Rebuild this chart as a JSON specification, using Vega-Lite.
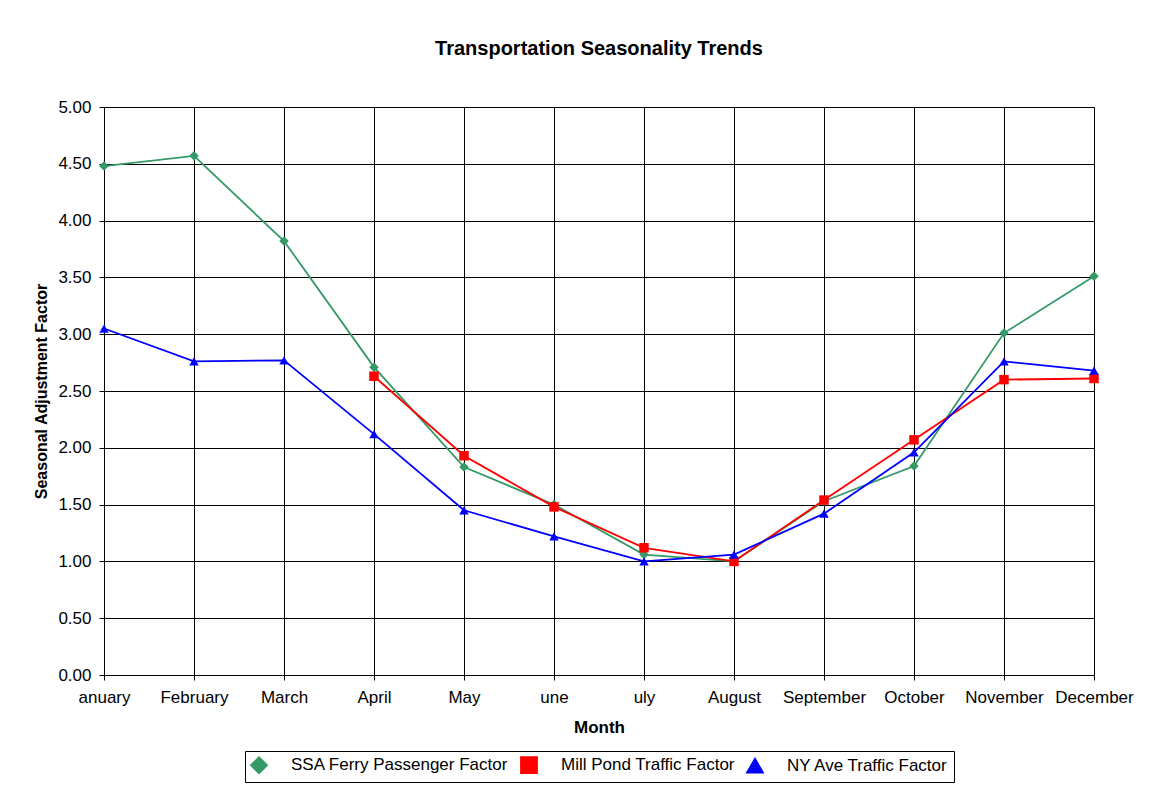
{
  "$schema": "https://vega.github.io/schema/vega-lite/v6.json",
  "width": 990,
  "height": 568,
  "autosize": {"type": "none"},
  "padding": {"left": 104, "top": 107, "right": 60, "bottom": 114},
  "background": "white",
  "config": {
    "font": "Liberation Sans",
    "view": {"stroke": "#808080", "strokeWidth": 1},
    "legend": {"layout": {"bottom": {"anchor": "middle"}}}
  },
  "title": {
    "text": "Transportation Seasonality Trends",
    "font": "Liberation Sans",
    "fontSize": 20,
    "fontWeight": "bold",
    "color": "black",
    "anchor": "middle",
    "offset": 39
  },
  "data": {
    "values": [
      {"month": "anuary", "series": "SSA Ferry Passenger Factor", "value": 4.48},
      {"month": "February", "series": "SSA Ferry Passenger Factor", "value": 4.57},
      {"month": "March", "series": "SSA Ferry Passenger Factor", "value": 3.82},
      {"month": "April", "series": "SSA Ferry Passenger Factor", "value": 2.71},
      {"month": "May", "series": "SSA Ferry Passenger Factor", "value": 1.83},
      {"month": "une", "series": "SSA Ferry Passenger Factor", "value": 1.5},
      {"month": "uly", "series": "SSA Ferry Passenger Factor", "value": 1.06},
      {"month": "August", "series": "SSA Ferry Passenger Factor", "value": 1.0},
      {"month": "September", "series": "SSA Ferry Passenger Factor", "value": 1.53},
      {"month": "October", "series": "SSA Ferry Passenger Factor", "value": 1.84},
      {"month": "November", "series": "SSA Ferry Passenger Factor", "value": 3.01},
      {"month": "December", "series": "SSA Ferry Passenger Factor", "value": 3.51},
      {"month": "April", "series": "Mill Pond Traffic Factor", "value": 2.63},
      {"month": "May", "series": "Mill Pond Traffic Factor", "value": 1.93},
      {"month": "une", "series": "Mill Pond Traffic Factor", "value": 1.48},
      {"month": "uly", "series": "Mill Pond Traffic Factor", "value": 1.12},
      {"month": "August", "series": "Mill Pond Traffic Factor", "value": 1.0},
      {"month": "September", "series": "Mill Pond Traffic Factor", "value": 1.54},
      {"month": "October", "series": "Mill Pond Traffic Factor", "value": 2.07},
      {"month": "November", "series": "Mill Pond Traffic Factor", "value": 2.6},
      {"month": "December", "series": "Mill Pond Traffic Factor", "value": 2.61},
      {"month": "anuary", "series": "NY Ave Traffic Factor", "value": 3.05},
      {"month": "February", "series": "NY Ave Traffic Factor", "value": 2.76},
      {"month": "March", "series": "NY Ave Traffic Factor", "value": 2.77},
      {"month": "April", "series": "NY Ave Traffic Factor", "value": 2.12},
      {"month": "May", "series": "NY Ave Traffic Factor", "value": 1.45},
      {"month": "une", "series": "NY Ave Traffic Factor", "value": 1.22},
      {"month": "uly", "series": "NY Ave Traffic Factor", "value": 1.0},
      {"month": "August", "series": "NY Ave Traffic Factor", "value": 1.06},
      {"month": "September", "series": "NY Ave Traffic Factor", "value": 1.42},
      {"month": "October", "series": "NY Ave Traffic Factor", "value": 1.96},
      {"month": "November", "series": "NY Ave Traffic Factor", "value": 2.76},
      {"month": "December", "series": "NY Ave Traffic Factor", "value": 2.68}
    ]
  },
  "encoding": {
    "x": {
      "field": "month",
      "type": "ordinal",
      "sort": ["anuary", "February", "March", "April", "May", "une", "uly", "August", "September", "October", "November", "December"],
      "scale": {"type": "point", "padding": 0},
      "axis": {
        "title": "Month",
        "labelAngle": 0,
        "labelFont": "Liberation Sans",
        "labelFontSize": 17,
        "labelColor": "black",
        "labelPadding": 9,
        "tickSize": 5,
        "tickColor": "black",
        "domainColor": "black",
        "grid": true,
        "gridColor": "black",
        "gridWidth": 1,
        "titleFont": "Liberation Sans",
        "titleFontSize": 17,
        "titleFontWeight": "bold",
        "titleColor": "black",
        "titlePadding": 14
      }
    },
    "y": {
      "field": "value",
      "type": "quantitative",
      "scale": {"domain": [0, 5]},
      "axis": {
        "title": "Seasonal Adjustment Factor",
        "values": [0, 0.5, 1, 1.5, 2, 2.5, 3, 3.5, 4, 4.5, 5],
        "format": ".2f",
        "labelFont": "Liberation Sans",
        "labelFontSize": 17,
        "labelColor": "black",
        "labelPadding": 8,
        "tickSize": 5,
        "tickColor": "black",
        "domainColor": "black",
        "grid": true,
        "gridColor": "black",
        "gridWidth": 1,
        "titleFont": "Liberation Sans",
        "titleFontSize": 16,
        "titleFontWeight": "bold",
        "titleColor": "black",
        "titlePadding": 8
      }
    },
    "color": {
      "field": "series",
      "type": "nominal",
      "scale": {
        "domain": ["SSA Ferry Passenger Factor", "Mill Pond Traffic Factor", "NY Ave Traffic Factor"],
        "range": ["#339966", "#FF0000", "#0000FF"]
      },
      "legend": {
        "title": null,
        "orient": "bottom",
        "direction": "horizontal",
        "offset": 16,
        "strokeColor": "black",
        "fillColor": "white",
        "padding": 5,
        "symbolSize": 256,
        "symbolStrokeWidth": 1.8,
        "labelFont": "Liberation Sans",
        "labelFontSize": 17,
        "labelColor": "black",
        "labelLimit": 0,
        "labelOffset": 23,
        "columnPadding": 8,
        "encode": {
          "symbols": {
            "update": {
              "shape": {"signal": "datum.value === 'SSA Ferry Passenger Factor' ? 'M-1,0H3.375M0.56,0L1.19,-0.62L1.81,0L1.19,0.62Z' : datum.value === 'Mill Pond Traffic Factor' ? 'M-1,0H3.375M0.56,-0.62H1.81V0.62H0.56Z' : 'M-1,0H3.375M1.19,-0.7L1.85,0.55H0.53Z'"},
              "stroke": {"scale": "color", "field": "value"},
              "strokeWidth": {"value": 1.8}
            }
          }
        }
      }
    }
  },
  "layer": [
    {
      "mark": {"type": "line", "strokeWidth": 1.8}
    },
    {
      "mark": {"type": "point", "filled": true, "size": 90, "opacity": 1},
      "encoding": {
        "shape": {
          "field": "series",
          "type": "nominal",
          "scale": {
            "domain": ["SSA Ferry Passenger Factor", "Mill Pond Traffic Factor", "NY Ave Traffic Factor"],
            "range": ["diamond", "square", "triangle-up"]
          },
          "legend": {
            "title": null,
            "orient": "bottom",
            "direction": "horizontal",
            "offset": 16,
            "strokeColor": "black",
            "fillColor": "white",
            "padding": 5,
            "symbolSize": 256,
            "symbolStrokeWidth": 1.8,
            "labelFont": "Liberation Sans",
            "labelFontSize": 17,
            "labelColor": "black",
            "labelLimit": 0,
            "labelOffset": 23,
            "columnPadding": 8,
            "encode": {
              "symbols": {
                "update": {
                  "shape": {"signal": "datum.value === 'SSA Ferry Passenger Factor' ? 'M-1,0H3.375M0.56,0L1.19,-0.62L1.81,0L1.19,0.62Z' : datum.value === 'Mill Pond Traffic Factor' ? 'M-1,0H3.375M0.56,-0.62H1.81V0.62H0.56Z' : 'M-1,0H3.375M1.19,-0.7L1.85,0.55H0.53Z'"},
                  "stroke": {"scale": "color", "field": "value"},
                  "strokeWidth": {"value": 1.8}
                }
              }
            }
          }
        }
      }
    }
  ]
}
